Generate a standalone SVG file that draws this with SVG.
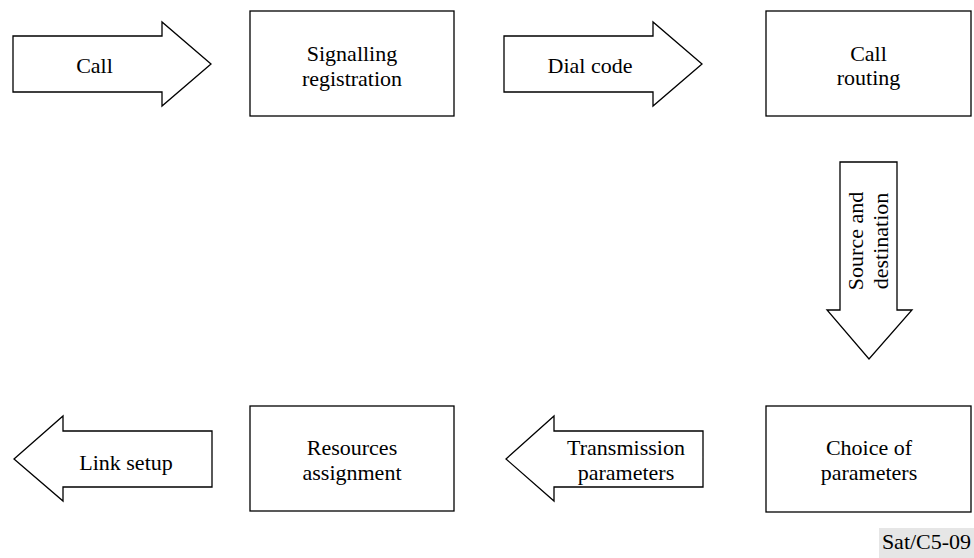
<svg xmlns="http://www.w3.org/2000/svg" width="974" height="558" viewBox="0 0 974 558">
<style>
.s{fill:#fff;stroke:#000;stroke-width:1.3}
.t{font-family:"Liberation Serif","Times New Roman",serif;font-size:22px;fill:#000;text-anchor:middle}
</style>
<rect width="974" height="558" fill="#fff"/>
<g id="connectors">
<g id="call"><polygon class="s" points="13,36 162,36 162,22 211,64 162,106 162,92 13,92"/><text class="t" x="94.5" y="73">Call</text></g>
<g id="dialcode"><polygon class="s" points="504,36 653,36 653,22 702,64 653,106 653,92 504,92"/><text class="t" x="590" y="73">Dial code</text></g>
<g id="srcdst"><polygon class="s" points="840,162 897,162 897,310 912,310 869,359 827,310 840,310"/><text class="t" transform="translate(863,241) rotate(-90)">Source and</text><text class="t" transform="translate(888,241) rotate(-90)">destination</text></g>
<g id="txparams"><polygon class="s" points="703,431 554,431 554,416 506,459 554,501 554,487 703,487"/><text class="t" x="626" y="455">Transmission</text><text class="t" x="626" y="480">parameters</text></g>
<g id="linksetup"><polygon class="s" points="212,431 63,431 63,416 14,459 63,501 63,487 212,487"/><text class="t" x="126" y="470">Link setup</text></g>
</g>
<g id="signalling"><rect class="s" x="250" y="11" width="204" height="105"/><text class="t" x="352" y="61">Signalling</text><text class="t" x="352" y="86">registration</text></g>
<g id="callrouting"><rect class="s" x="766" y="11" width="205" height="105"/><text class="t" x="868.5" y="61">Call</text><text class="t" x="868.5" y="85">routing</text></g>
<g id="choice"><rect class="s" x="766" y="406" width="205" height="106"/><text class="t" x="869" y="455">Choice of</text><text class="t" x="869" y="480">parameters</text></g>
<g id="resources"><rect class="s" x="250" y="406" width="204" height="105"/><text class="t" x="352" y="455">Resources</text><text class="t" x="352" y="480">assignment</text></g>
<g id="label"><rect x="879" y="528" width="95" height="30" fill="#e6e6e6"/><text class="t" x="926.5" y="549">Sat/C5-09</text></g>
</svg>
